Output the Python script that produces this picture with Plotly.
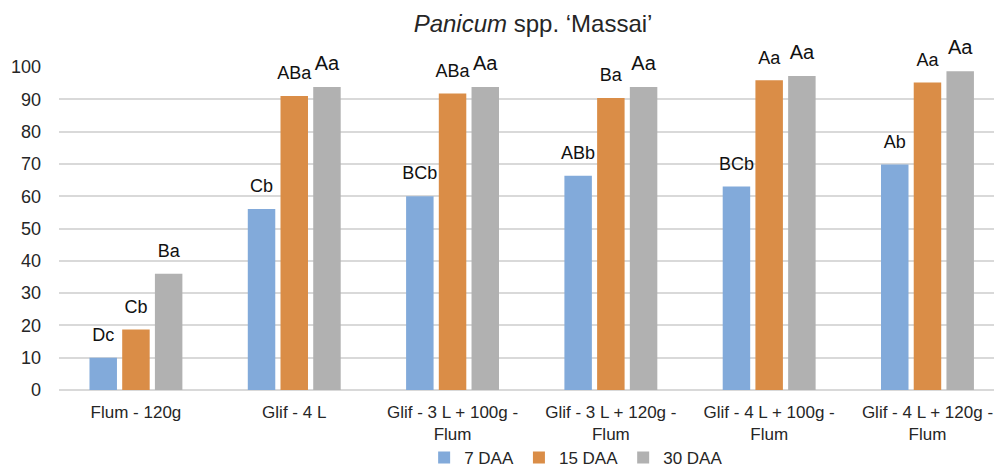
import plotly.graph_objects as go

categories = ["Flum - 120g", "Glif - 4 L", "Glif - 3 L + 100g -<br>Flum",
              "Glif - 3 L + 120g -<br>Flum", "Glif - 4 L + 100g -<br>Flum",
              "Glif - 4 L + 120g -<br>Flum"]
series_names = ["7 DAA", "15 DAA", "30 DAA"]
vals_7 = [10, 56, 60, 66.3, 63, 69.8]
vals_15 = [18.7, 91, 91.8, 90.4, 95.9, 95.2]
vals_30 = [36, 93.8, 93.8, 93.8, 97.2, 98.7]
labels_7 = ["Dc", "Cb", "BCb", "ABb", "BCb", "Ab"]
labels_15 = ["Cb", "ABa", "ABa", "Ba", "Aa", "Aa"]
labels_30 = ["Ba", "Aa", "Aa", "Aa", "Aa", "Aa"]
y_ticks = [0, 10, 20, 30, 40, 50, 60, 70, 80, 90, 100]

colors = ["#82AADA", "#DA8D47", "#B1B1B1"]
label_sizes = [[18] * 6, [18] * 6, [18, 20, 20, 20, 20, 20]]
font = "Liberation Sans, Arial, sans-serif"
xs = list(range(len(categories)))

fig = go.Figure()
for name, vals, col in zip(series_names, [vals_7, vals_15, vals_30], colors):
    fig.add_trace(go.Bar(
        x=xs, y=vals, name=name, offsetgroup=name,
        marker=dict(color=col, line=dict(width=0)), hoverinfo="skip",
    ))
for name, vals, labs, sz in zip(series_names, [vals_7, vals_15, vals_30],
                                [labels_7, labels_15, labels_30], label_sizes):
    fig.add_trace(go.Scatter(
        x=xs, y=vals, offsetgroup=name, mode="markers+text", text=labs,
        textposition="top center", cliponaxis=False, showlegend=False,
        marker=dict(size=18, opacity=0), hoverinfo="skip",
        textfont=dict(family=font, size=sz, color="#111111"),
    ))

fig.update_layout(
    width=1002, height=470,
    margin=dict(l=51, r=1, t=59, b=88, autoexpand=False),
    paper_bgcolor="white", plot_bgcolor="white",
    barmode="group", bargap=0.38, bargroupgap=0.16,
    scattermode="group", scattergap=0.38,
    title=dict(text="<i>Panicum</i> spp. ‘Massai’", x=0.524, xanchor="center",
               xref="container", yref="container",
               y=1 - 15.3 / 470, yanchor="middle", automargin=False,
               font=dict(family=font, size=24, color="#262626")),
    font=dict(family=font, color="#262626"),
    showlegend=True,
    legend=dict(orientation="h", x=0.567, xanchor="center", xref="container",
                yref="container", y=20 / 470, yanchor="middle",
                bgcolor="rgba(0,0,0,0)",
                font=dict(family=font, size=17, color="#262626"),
                itemwidth=30, tracegroupgap=0),
    xaxis=dict(tickmode="array", tickvals=xs,
               ticktext=categories, range=[-0.486, 5.515], automargin=False,
               tickfont=dict(family=font, size=17, color="#262626"),
               ticklabeloverflow="allow", ticklabelstandoff=10,
               showgrid=False, zeroline=False, showline=False, ticks=""),
    yaxis=dict(range=[0, 100], tickvals=y_ticks, automargin=False,
               tickfont=dict(family=font, size=18, color="#262626"),
               showgrid=True, gridcolor="#D9D9D9", gridwidth=1.5,
               zeroline=True, zerolinecolor="#D9D9D9", zerolinewidth=1.5,
               showline=False, ticks="", ticklabelstandoff=17),
)

fig.write_html("out.html")
